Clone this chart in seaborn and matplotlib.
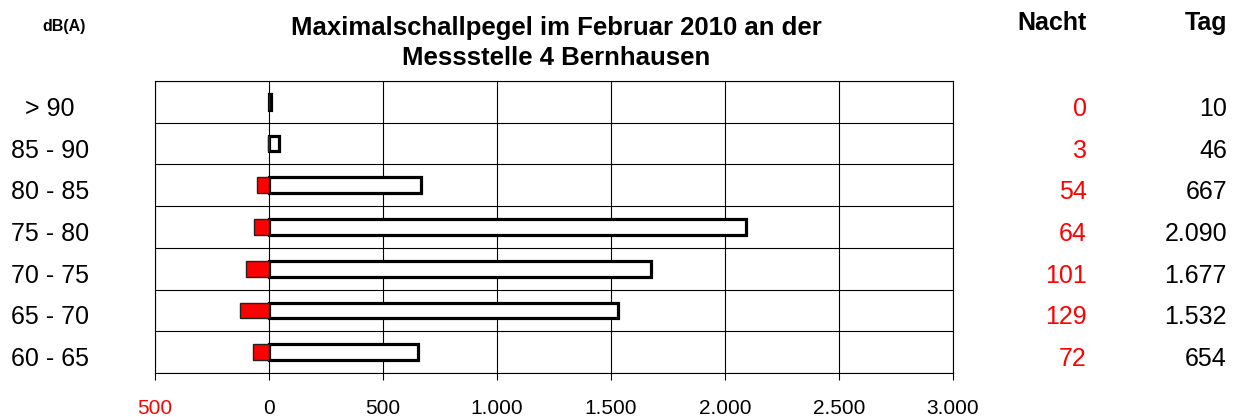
import matplotlib
matplotlib.use("Agg")
import matplotlib.pyplot as plt
import matplotlib.transforms as mtransforms
import seaborn as sns
import pandas as pd
import numpy as np

categories = ["> 90", "85 - 90", "80 - 85", "75 - 80", "70 - 75", "65 - 70", "60 - 65"]
nacht = [0, 3, 54, 64, 101, 129, 72]
tag = [10, 46, 667, 2090, 1677, 1532, 654]
nacht_labels = ["0", "3", "54", "64", "101", "129", "72"]
tag_labels = ["10", "46", "667", "2.090", "1.677", "1.532", "654"]
xticks = [-500, 0, 500, 1000, 1500, 2000, 2500, 3000]
xtick_labels = ["500", "0", "500", "1.000", "1.500", "2.000", "2.500", "3.000"]

sns.set_theme(style="white")
plt.rcParams['font.family'] = ['Liberation Sans', 'DejaVu Sans']
plt.rcParams['text.color'] = 'black'
plt.rcParams['xtick.color'] = 'black'
plt.rcParams['ytick.color'] = 'black'

df = pd.DataFrame({"cat": categories, "Nacht": [-v for v in nacht], "Tag": tag})

W, H = 1239, 417
fig = plt.figure(figsize=(W / 100, H / 100), dpi=100)
ax = fig.add_axes([155 / W, 1 - 373 / H, (953 - 155) / W, (373 - 81) / H])

sns.barplot(data=df, y="cat", x="Tag", order=categories, orient="h", width=0.38,
            color="white", edgecolor="black", linewidth=2.3, ax=ax, zorder=3, saturation=1)
sns.barplot(data=df, y="cat", x="Nacht", order=categories, orient="h", width=0.38,
            color="#ff0000", edgecolor="#222222", linewidth=1.0, ax=ax, zorder=3, saturation=1)

ax.set_xlim(-500, 3000)
ax.set_ylim(len(categories) - 0.5, -0.5)
ax.set_xticks(xticks)
ax.set_xticklabels(xtick_labels, fontsize=15)
ax.get_xticklabels()[0].set_color("red")
ax.tick_params(axis="x", length=5, width=0.8, color="black", direction="out", pad=13.5, bottom=True)
ax.set_yticks(range(len(categories)))
ax.set_yticklabels([])
ax.tick_params(axis="y", length=0)
ax.set_yticks(np.arange(-0.5, len(categories), 1), minor=True)
ax.tick_params(axis="y", which="minor", length=0)
ax.grid(True, which="minor", axis="y", color="black", linewidth=0.8, zorder=0)
ax.grid(True, which="major", axis="x", color="black", linewidth=0.8, zorder=0)
ax.set_axisbelow(True)
ax.set_xlabel("")
ax.set_ylabel("")
for s in ax.spines.values():
    s.set_color("black")
    s.set_linewidth(0.8)
    s.set_visible(True)

tr = mtransforms.blended_transform_factory(fig.transFigure, ax.transData)
tr = mtransforms.offset_copy(tr, fig=fig, x=0, y=-14, units="dots")
fs = 18
for i in range(len(categories)):
    ax.text(50 / W, i, categories[i], transform=tr, ha="center", va="baseline", color="black", fontsize=fs)
    ax.text(1087 / W, i, nacht_labels[i], transform=tr, ha="right", va="baseline", color="red", fontsize=fs)
    ax.text(1227 / W, i, tag_labels[i], transform=tr, ha="right", va="baseline", color="black", fontsize=fs)

fig.text(64 / W, 1 - 31 / H, "dB(A)", ha="center", va="baseline", fontsize=11.5, fontweight="bold")
fig.text(556 / W, 1 - 35 / H, "Maximalschallpegel im Februar 2010 an der", ha="center", va="baseline",
         fontsize=18.5, fontweight="bold")
fig.text(556 / W, 1 - 65 / H, "Messstelle 4 Bernhausen", ha="center", va="baseline",
         fontsize=18.5, fontweight="bold")
fig.text(1087 / W, 1 - 30 / H, "Nacht", ha="right", va="baseline", fontsize=18, fontweight="bold")
fig.text(1227 / W, 1 - 30 / H, "Tag", ha="right", va="baseline", fontsize=18, fontweight="bold")

fig.savefig("out.png", dpi=100, facecolor="white")
